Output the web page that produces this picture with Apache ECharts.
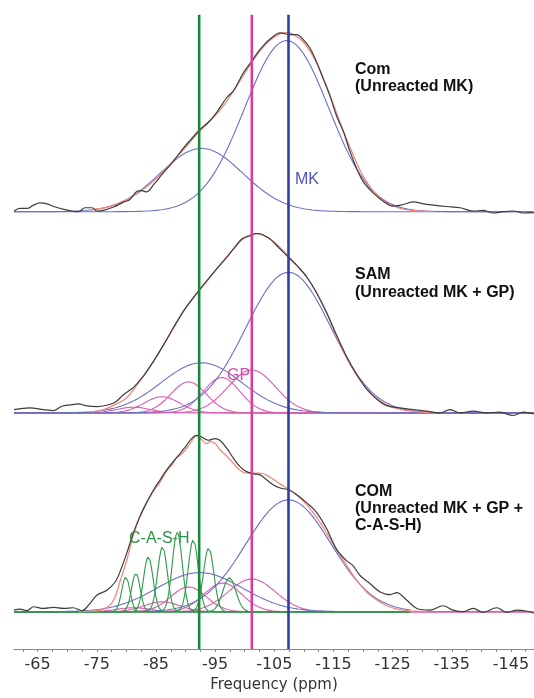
<!DOCTYPE html>
<html>
<head>
<meta charset="utf-8">
<script src="https://cdn.jsdelivr.net/npm/echarts@6/dist/echarts.min.js"></script>
<style>
  html, body { margin: 0; padding: 0; background: #ffffff; }
  #chart { width: 534px; height: 698px; }
</style>
</head>
<body>
<div id="chart"></div>
<script>
// ---- frequency axis (ppm) ----
const xLabelValues = [-65, -75, -85, -95, -105, -115, -125, -135, -145];
const xTickValues = [-62.5, -65, -67.5, -70, -72.5, -75, -77.5, -80, -82.5, -85, -87.5, -90, -92.5, -95,
  -97.5, -100, -102.5, -105, -107.5, -110, -112.5, -115, -117.5, -120, -122.5, -125, -127.5, -130,
  -132.5, -135, -137.5, -140, -142.5, -145, -147.5];

// reference positions: C-A-S-H, GP, MK
const refLinePpm = [-92.3, -101.2, -107.4];

// ---- Com (unreacted MK): measured spectrum [ppm, intensity] ----
const comSignal = [[-61.0,0.7],[-62.0,3.3],[-63.2,3.3],[-64.3,6.7],[-65.4,9],[-66.6,8],[-67.7,5.3],[-69.4,2.3],
  [-70.8,0.7],[-71.9,0],[-73.0,4],[-74.2,4],[-75.0,0.7],[-76.1,1.3],[-77.8,4.7],[-79.5,9.7],[-80.6,12.3],
  [-81.8,20.7],[-82.6,21.3],[-83.4,20],[-84.6,27.3],[-86.2,39],[-87.9,50.7],[-89.6,64],[-90.8,72.3],
  [-92.3,82.3],[-93.9,90.7],[-95.3,100.7],[-97.0,115.7],[-98.1,122.3],[-99.8,140.7],[-101.2,152.3],
  [-102.6,164],[-104.3,174.5],[-106.0,180.7],[-107.7,179],[-108.8,179],[-109.9,174],[-111.0,165.7],
  [-112.2,150.7],[-113.3,134],[-114.4,117.3],[-115.5,97.3],[-116.7,80.7],[-117.8,60.7],[-118.9,44],
  [-120.0,30.7],[-121.7,19],[-123.4,10.7],[-125.1,5.7],[-126.8,7.3],[-128.5,10],[-130.2,8],[-131.9,6.7],
  [-134.1,5.3],[-136.4,4],[-138.6,0.7],[-140.3,1.3],[-142.0,-1.3],[-143.7,0],[-145.4,0.7],[-147.1,-1.3],[-148.9,-1]];
// fitted envelope
const comFit = [[-74,2],[-76,3.5],[-78,7],[-80,12],[-82,19],[-84,28],[-86,39],[-88,52],[-90,65],[-92,79],
  [-94,91],[-96,104],[-98,121],[-100,140],[-102,158],[-104,172],[-106,180],[-107,181],[-108,180],[-110,171],
  [-112,152],[-114,124],[-116,92],[-118,62],[-120,36],[-122,19],[-124,9],[-126,4],[-128,1.5],[-130,0.5],[-132,0]];
// fitted peaks: centre (ppm), height, sigma (ppm)
const comBlueCentre = [-107.1, -92.7];
const comBlueHeight = [173, 64];
const comBlueSigma = [7.1, 7.0];

// ---- SAM (unreacted MK + GP) ----
const samSignal = [[-61.0,3.3],[-63.7,5],[-66.0,3.3],[-67.7,2.3],[-69.1,6.7],[-70.5,8],[-71.9,9],[-73.3,7],
  [-75.0,6.3],[-76.7,7.7],[-78.1,10.7],[-79.5,18.3],[-81.2,25.7],[-82.9,37.3],[-84.6,52.3],[-86.3,69],
  [-87.9,85.7],[-89.6,102.3],[-91.0,114],[-92.3,124],[-93.9,135.7],[-95.3,145.7],[-97.0,157.3],[-98.1,165.7],
  [-99.5,175.7],[-100.9,179],[-102.0,181.3],[-102.6,181],[-103.7,178],[-104.3,175.6],[-106.0,165.6],
  [-107.4,157.3],[-108.8,149],[-110.5,137.3],[-112.2,120.6],[-113.9,100.6],[-115.5,79],[-117.2,57.3],
  [-118.9,39],[-120.6,24],[-122.3,14],[-124.0,7.3],[-126.2,5],[-128.5,3.3],[-130.7,1.7],[-133.0,0],
  [-134.7,3.3],[-136.4,0],[-138.6,1.7],[-140.9,0],[-143.1,0.7],[-145.4,-2.7],[-147.1,0.7],[-148.9,-1]];
const samFit = [[-74,1],[-76,3],[-78,8],[-80,15],[-82,30],[-84,47],[-86,66],[-88,86],[-90,106],[-92,121],
  [-94,136],[-96,151],[-98,165],[-100,177],[-102,181],[-104,177],[-106,167],[-108,154],[-110,141],[-112,123],
  [-114,99],[-116,70],[-118,47],[-120,29],[-122,16],[-124,8],[-126,4],[-128,2],[-130,0.8],[-132,0]];
const samBlueCentre = [-107.4, -92.7];
const samBlueHeight = [142, 50.6];
const samBlueSigma = [7.2, 6.8];
const samGpCentre = [-101.2, -96.1, -90.5, -86.0, -81.2];
const samGpHeight = [43.3, 35.6, 31.3, 16.3, 5.7];
const samGpSigma = [4.0, 3.1, 3.0, 3.0, 2.8];

// ---- COM (unreacted MK + GP + C-A-S-H) ----
const casSignal = [[-61.0,1.6],[-62.0,2.6],[-63.2,1],[-64.3,5],[-66.0,3.3],[-67.7,4.3],[-69.4,3.3],[-71.0,4],
  [-72.5,1],[-73.6,6.6],[-75.0,16.6],[-76.7,21.6],[-78.1,30],[-78.9,40],[-80.1,60],[-81.2,80],[-82.3,96.6],
  [-83.4,110],[-84.6,123.3],[-85.7,133.3],[-86.8,143.3],[-87.9,151.6],[-89.1,160],[-90.2,168.3],[-91.0,175],
  [-91.9,178.3],[-92.7,176.6],[-93.9,173.3],[-95.0,175],[-95.8,173.3],[-97.0,165],[-98.1,155],[-99.2,146.6],
  [-100.3,141.6],[-101.5,139.3],[-102.6,138.3],[-103.7,133.3],[-104.8,128.3],[-106.0,125],[-107.4,123.3],
  [-108.8,118.3],[-110.5,110],[-112.2,100],[-113.9,83.3],[-115.5,63.3],[-117.2,51.6],[-118.3,46.6],
  [-119.5,36.6],[-121.2,28.3],[-122.9,20],[-124.6,17.3],[-125.7,19.3],[-127.4,11.6],[-129.1,3.3],
  [-131.3,1.6],[-133.5,6],[-135.2,1.6],[-136.9,0],[-138.6,3.3],[-140.3,-0.6],[-142.6,4],[-144.3,-0.6],
  [-146.0,1.6],[-147.6,0.7],[-148.9,-1.6]];
const casFit = [[-72,0],[-74,0.5],[-75.6,1.6],[-77.2,6.6],[-78.1,15],[-78.9,30],[-80.1,53],[-81.2,78],
  [-82.3,96],[-83.4,110],[-84.6,122],[-85.7,131],[-86.8,142],[-87.9,150],[-88.5,156],[-89.1,158],[-90.2,165],
  [-91.3,175],[-91.9,178],[-92.7,174],[-93.6,170],[-94.1,172],[-95.0,170],[-95.8,164],[-97.0,157],[-98.1,150],
  [-99.2,143],[-100.3,140],[-101.5,140],[-102.6,140],[-103.7,138],[-104.8,134],[-106.0,129],[-107.4,124],
  [-108.8,118],[-110.5,108],[-112.2,95],[-113.9,79],[-115.5,63],[-117.2,47],[-118.9,32],[-120.6,20],
  [-122.3,12],[-124.0,6],[-126.2,2],[-128.5,0.5],[-131,0]];
const casBlueCentre = [-107.4, -92.4];
const casBlueHeight = [113, 39.5];
const casBlueSigma = [7.2, 7.2];
const casGpCentre = [-101.2, -96.3, -90.5, -86.0, -81.2];
const casGpHeight = [33, 29, 25, 10, 4];
const casGpSigma = [4.0, 3.2, 3.0, 3.0, 2.8];
const cashCentre = [-79.9, -81.6, -83.7, -86.1, -88.6, -91.3, -93.9, -97.4];
const cashHeight = [35, 39, 55.6, 65.6, 80, 72.6, 64.3, 34.3];
const cashSigma = [0.7, 0.72, 0.8, 0.82, 0.85, 0.85, 0.88, 1.1];

// ---- drawing ----
const X_LEFT = -61.0, X_RIGHT = -148.9;
const Y_TOP = 656;                // y units run from the axis line (0) upward
const offset = { com: 442, sam: 238.7, cas: 37.7 };

const C_BLUE = '#6a70c4', C_MAG = '#d95cae', C_GREEN = '#2f9a48';
const C_FIT = '#f4877d', C_SIG = '#3d3d3d';

function peakCurve(c, h, s, base, from, to) {
  const pts = [];
  for (let x = from; x >= to - 1e-9; x -= 0.2) {
    pts.push([+x.toFixed(2), base + h * Math.exp(-((x - c) * (x - c)) / (2 * s * s))]);
  }
  return pts;
}
function shift(pairs, base) { return pairs.map(p => [p[0], p[1] + base]); }
function lineSeries(data, color, width, z, smooth) {
  return { type: 'line', data, showSymbol: false, silent: true, smooth: smooth || 0, z,
    lineStyle: { color, width }, animation: false };
}

const series = [];
function addPeaks(centres, heights, sigmas, base, color, z, from, to) {
  centres.forEach((c, i) => series.push(lineSeries(peakCurve(c, heights[i], sigmas[i], base, from, to), color, 1.1, z)));
}

// Com
addPeaks(comBlueCentre, comBlueHeight, comBlueSigma, offset.com, C_BLUE, 3, X_LEFT, X_RIGHT);
series.push(lineSeries(shift(comFit, offset.com), C_FIT, 1.3, 4, 0.4));
series.push(lineSeries(shift(comSignal, offset.com), C_SIG, 1.2, 5, 0.35));

// SAM
addPeaks(samGpCentre, samGpHeight, samGpSigma, offset.sam, C_MAG, 2, X_LEFT, X_RIGHT);
addPeaks(samBlueCentre, samBlueHeight, samBlueSigma, offset.sam, C_BLUE, 3, X_LEFT, X_RIGHT);
series.push(lineSeries(shift(samFit, offset.sam), C_FIT, 1.3, 4, 0.4));
series.push(lineSeries(shift(samSignal, offset.sam), C_SIG, 1.2, 5, 0.35));

// COM with C-A-S-H
addPeaks(casGpCentre, casGpHeight, casGpSigma, offset.cas, C_MAG, 2, X_LEFT, X_RIGHT);
addPeaks(casBlueCentre, casBlueHeight, casBlueSigma, offset.cas, C_BLUE, 3, X_LEFT, -128);
addPeaks(cashCentre, cashHeight, cashSigma, offset.cas, C_GREEN, 3, X_LEFT, -128);
series.push(lineSeries(shift(casFit, offset.cas), C_FIT, 1.3, 4, 0.4));
series.push(lineSeries(shift(casSignal, offset.cas), C_SIG, 1.2, 5, 0.35));

// vertical reference lines
const refColors = ['#178a3a', '#d4409e', '#2f3ca8'];
refLinePpm.forEach((x, i) => series.push(lineSeries([[x, 0], [x, 641]], refColors[i], 2.6, 10)));

const chart = echarts.init(document.getElementById('chart'), null, { renderer: 'canvas' });
const titleFont = 'bold 16px "Liberation Sans", Arial, sans-serif';
const tagFont = '16px "Liberation Sans", Arial, sans-serif';
function txt(x, y, text, font, fill) {
  return { type: 'text', left: x, top: y, silent: true, z: 20,
    style: { text, font, fill, textVerticalAlign: 'middle' } };
}
chart.setOption({
  animation: false,
  backgroundColor: '#ffffff',
  grid: { left: 14, right: 0, top: 0, height: Y_TOP, containLabel: false },
  xAxis: {
    type: 'value', inverse: true, min: X_RIGHT, max: X_LEFT,
    name: 'Frequency (ppm)', nameLocation: 'middle', nameGap: 29,
    nameTextStyle: { fontFamily: 'DejaVu Sans', fontSize: 15, color: '#333' },
    axisLine: { show: true, lineStyle: { color: '#8a8a8a', width: 1 } },
    axisTick: { show: true, customValues: xTickValues, length: 3, lineStyle: { color: '#8a8a8a' } },
    axisLabel: { customValues: xLabelValues, fontFamily: 'DejaVu Sans', fontSize: 16, color: '#333', margin: 8 },
    splitLine: { show: false }
  },
  yAxis: { type: 'value', min: 0, max: Y_TOP, show: false },
  series,
  graphic: [
    txt(355, 62, 'Com', titleFont, '#111'),
    txt(355, 79, '(Unreacted MK)', titleFont, '#111'),
    txt(355, 267, 'SAM', titleFont, '#111'),
    txt(355, 285, '(Unreacted MK + GP)', titleFont, '#111'),
    txt(355, 484, 'COM', titleFont, '#111'),
    txt(355, 501, '(Unreacted MK + GP +', titleFont, '#111'),
    txt(355, 518, 'C-A-S-H)', titleFont, '#111'),
    txt(295, 172, 'MK', tagFont, '#4b56b8'),
    txt(227, 368, 'GP', tagFont, '#d04fa6'),
    txt(129, 531, 'C-A-S-H', tagFont, '#2b9444')
  ]
});
</script>
</body>
</html>
